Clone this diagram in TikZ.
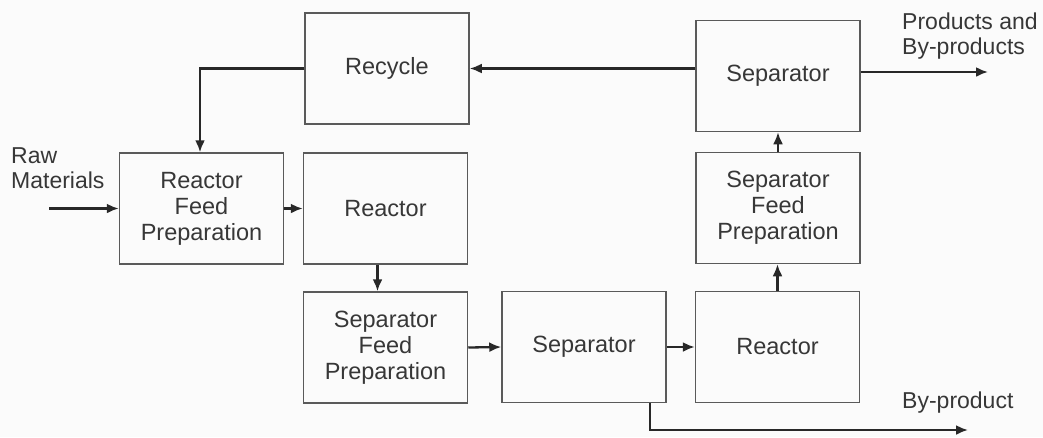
\documentclass[tikz,border=0pt]{standalone}
\usepackage{fontspec}
\setmainfont{Liberation Sans}
\usetikzlibrary{arrows.meta}
\definecolor{boxline}{RGB}{90,90,90}
\definecolor{flowline}{RGB}{40,40,40}
\definecolor{txt}{RGB}{55,55,55}
\definecolor{paper}{RGB}{251,251,251}
\begin{document}
\begin{tikzpicture}[x=1pt,y=-1pt,
  unit/.style={draw=boxline,line width=1.5pt,minimum width=164pt,minimum height=111pt,
    inner sep=0pt,align=center,text=txt,font=\fontsize{23.5}{26}\selectfont},
  lbl/.style={inner sep=0pt,align=left,text=txt,font=\fontsize{23}{25}\selectfont},
  flow/.style={draw=flowline,line width=2.3pt,-{Latex[length=12pt,width=10pt]}}]
  \fill[paper] (0,0) rectangle (1043,437);
  \useasboundingbox (0,0) rectangle (1043,437);

  % process units
  \node[unit] (rec)  at (387,68.5)   {Recycle};
  \node[unit] (sep1) at (778,76)     {Separator};
  \node[unit] (rfp)  at (201.5,208.5){Reactor\\Feed\\Preparation};
  \node[unit] (rea1) at (385.5,208.5){Reactor};
  \node[unit] (sfp2) at (778,208)    {Separator\\Feed\\Preparation};
  \node[unit] (sfp1) at (385.5,347.5){Separator\\Feed\\Preparation};
  \node[unit] (sep2) at (584,347)    {Separator};
  \node[unit] (rea2) at (777.5,347)  {Reactor};

  % stream labels
  \node[lbl,anchor=north west] (raw)  at (11,147) {Raw\\Materials};
  \node[lbl,anchor=north west] (prod) at (902,13) {Products and\\By-products};
  \node[lbl,anchor=north west] (byp)  at (902,392) {By-product};

  % free ends
  \coordinate (rawin)   at (49,208.5);
  \coordinate (prodout) at (988,72);
  \coordinate (byout)   at (968,430);

  % streams
  \draw[flow] (rawin) -- (rfp.west);
  \draw[flow] (rfp.east) -- (rea1.west);
  \draw[flow] ([xshift=-8pt]rea1.south) -- ([xshift=-8pt]sfp1.north);
  \draw[flow] (sfp1.east) -- (sep2.west);
  \draw[flow] (sep2.east) -- (rea2.west);
  \draw[flow] (rea2.north) -- (rea2.north |- sfp2.south);
  \draw[flow] (sfp2.north) -- (sfp2.north |- sep1.south);
  \draw[flow] (sep1.west |- rec.east) -- (rec.east);
  \draw[flow] (rec.west) -| ([xshift=-1.5pt]rfp.north);
  \draw[flow] (sep1.east |- prodout) -- (prodout);
  \draw[flow] ([xshift=66pt]sep2.south) |- (byout);
\end{tikzpicture}
\end{document}
